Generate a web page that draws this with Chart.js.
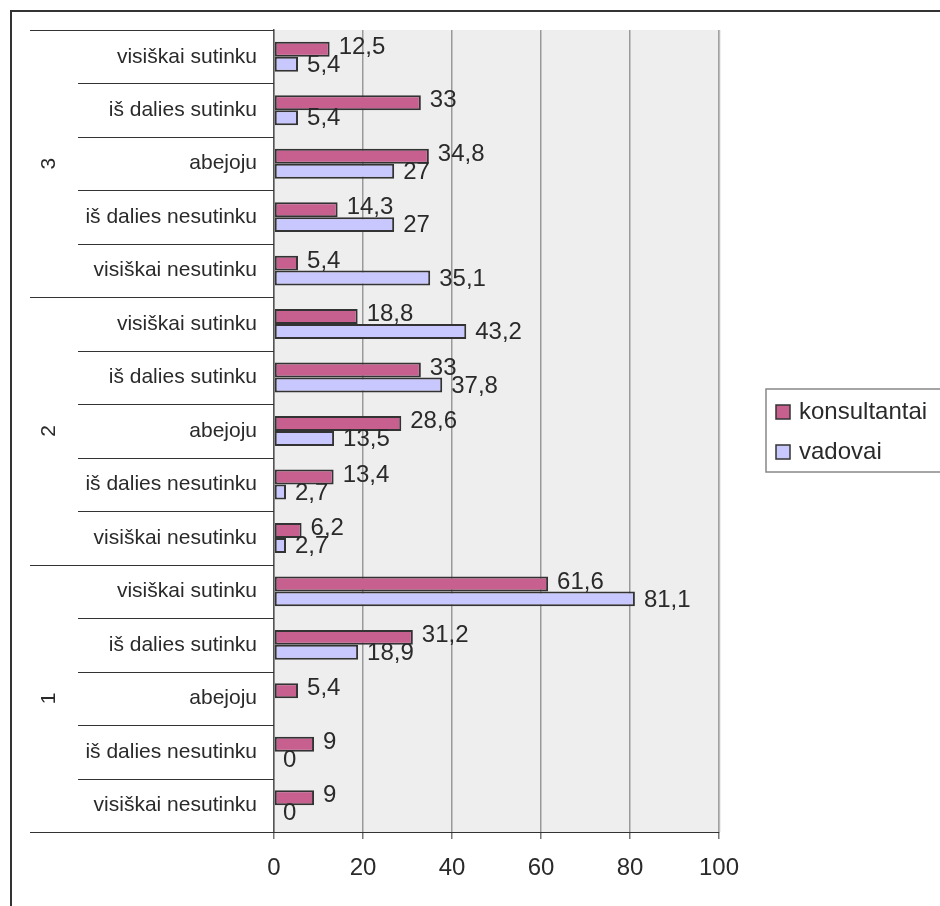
<!DOCTYPE html>
<html>
<head>
<meta charset="utf-8">
<script src="https://cdn.jsdelivr.net/npm/chart.js@4.4.1/dist/chart.umd.min.js"></script>
<style>
    html, body { margin: 0; padding: 0; background: #fff; }
    #wrap { width: 940px; height: 906px; }
</style>
</head>
<body>
<div id="wrap"><canvas id="surveyChart" width="940" height="906"></canvas></div>
<script>
const categories = [
    'visiškai sutinku', 'iš dalies sutinku', 'abejoju', 'iš dalies nesutinku', 'visiškai nesutinku',
    'visiškai sutinku', 'iš dalies sutinku', 'abejoju', 'iš dalies nesutinku', 'visiškai nesutinku',
    'visiškai sutinku', 'iš dalies sutinku', 'abejoju', 'iš dalies nesutinku', 'visiškai nesutinku'
];
const groups = ['3', '2', '1'];
const groupSize = 5;
const konsultantai = [12.5, 33, 34.8, 14.3, 5.4, 18.8, 33, 28.6, 13.4, 6.2, 61.6, 31.2, 5.4, 9, 9];
const vadovai = [5.4, 5.4, 27, 27, 35.1, 43.2, 37.8, 13.5, 2.7, 2.7, 81.1, 18.9, null, 0, 0];
const xTicks = [0, 20, 40, 60, 80, 100];

const FONT = "'Liberation Sans', Arial, sans-serif";
const TEXT = '#2a2a2a';

const fmt = v => String(v).replace('.', ',');

const decorations = {
    id: 'decorations',
    beforeDraw(chart) {
        const { ctx, chartArea: a } = chart;
        ctx.save();
        ctx.fillStyle = '#eeeeee';
        ctx.fillRect(a.left, a.top, a.right - a.left, a.bottom - a.top);
        ctx.restore();
    },
    afterDraw(chart) {
        const { ctx, chartArea: a } = chart;
        const step = (a.bottom - a.top) / categories.length;

        ctx.save();
        // outer frame
        ctx.strokeStyle = '#333';
        ctx.lineWidth = 2;
        ctx.strokeRect(11, 11, 960, 960);

        // plot right edge
        ctx.strokeStyle = '#bbb';
        ctx.lineWidth = 1.5;
        ctx.beginPath();
        ctx.moveTo(a.right + 0.5, a.top);
        ctx.lineTo(a.right + 0.5, a.bottom);
        ctx.stroke();

        // category separators, long ones between groups
        ctx.strokeStyle = '#333';
        ctx.lineWidth = 1;
        for (let i = 0; i <= categories.length; i++) {
            const py = Math.round(a.top + i * step) + 0.5;
            const x0 = i % groupSize === 0 ? 30 : 78;
            ctx.beginPath();
            ctx.moveTo(x0, py);
            ctx.lineTo(a.left, py);
            ctx.stroke();
        }

        // group labels, rotated
        ctx.fillStyle = TEXT;
        ctx.font = '21px ' + FONT;
        ctx.textAlign = 'center';
        ctx.textBaseline = 'middle';
        groups.forEach((g, k) => {
            const cy = a.top + (k * groupSize + groupSize / 2) * step;
            ctx.save();
            ctx.translate(49, cy);
            ctx.rotate(-Math.PI / 2);
            ctx.fillText(g, 0, 0);
            ctx.restore();
        });

        // value labels
        ctx.font = '24px ' + FONT;
        ctx.textAlign = 'left';
        chart.data.datasets.forEach((ds, di) => {
            const meta = chart.getDatasetMeta(di);
            meta.data.forEach((bar, i) => {
                const v = ds.data[i];
                if (v === null || v === undefined) return;
                const shift = di === 0 ? -2 : 1;
                ctx.fillText(fmt(v), bar.x + 9, bar.y + shift);
            });
        });

        // legend
        ctx.fillStyle = '#fff';
        ctx.fillRect(766, 389, 200, 83);
        ctx.strokeStyle = '#888';
        ctx.lineWidth = 1.5;
        ctx.strokeRect(766, 389, 200, 83);
        chart.data.datasets.forEach((ds, di) => {
            const ly = di === 0 ? 412 : 452;
            ctx.fillStyle = ds.backgroundColor;
            ctx.fillRect(776, ly - 7, 14, 14);
            ctx.strokeStyle = '#333';
            ctx.lineWidth = 1.5;
            ctx.strokeRect(776, ly - 7, 14, 14);
            ctx.fillStyle = TEXT;
            ctx.font = '24px ' + FONT;
            ctx.textBaseline = 'middle';
            ctx.fillText(ds.label, 799, ly);
        });

        // bottom axis line extended under the category column
        ctx.strokeStyle = '#333';
        ctx.lineWidth = 1;
        ctx.beginPath();
        ctx.moveTo(30, Math.round(a.bottom) + 0.5);
        ctx.lineTo(a.right, Math.round(a.bottom) + 0.5);
        ctx.stroke();
        ctx.restore();
    }
};

const ctx = document.getElementById('surveyChart').getContext('2d');
new Chart(ctx, {
    type: 'bar',
    data: {
        labels: categories,
        datasets: [{
            label: 'konsultantai',
            data: konsultantai,
            backgroundColor: '#c7608f',
            borderColor: '#333',
            borderWidth: 2,
            borderSkipped: false,
            categoryPercentage: 0.56,
            barPercentage: 1
        }, {
            label: 'vadovai',
            data: vadovai,
            backgroundColor: '#c8c8ff',
            borderColor: '#333',
            borderWidth: 2,
            borderSkipped: false,
            categoryPercentage: 0.56,
            barPercentage: 1
        }]
    },
    options: {
        indexAxis: 'y',
        responsive: false,
        animation: false,
        devicePixelRatio: 1,
        layout: { padding: { top: 30, right: 221, left: 0, bottom: 0 } },
        plugins: {
            legend: { display: false },
            tooltip: { enabled: false }
        },
        scales: {
            x: {
                min: 0,
                max: 100,
                afterFit: scale => { scale.height = 74; },
                afterBuildTicks: scale => { scale.ticks = xTicks.map(v => ({ value: v })); },
                grid: { color: '#999', tickColor: '#777', tickLength: 7, lineWidth: 1.5 },
                border: { color: '#333', width: 1 },
                ticks: { font: { family: FONT, size: 24 }, color: TEXT, padding: 15 }
            },
            y: {
                afterFit: scale => { scale.width = 274; },
                grid: { display: false },
                border: { color: '#555', width: 1.5 },
                ticks: { font: { family: FONT, size: 21 }, color: TEXT, padding: 9, autoSkip: false }
            }
        }
    },
    plugins: [decorations]
});
</script>
</body>
</html>
